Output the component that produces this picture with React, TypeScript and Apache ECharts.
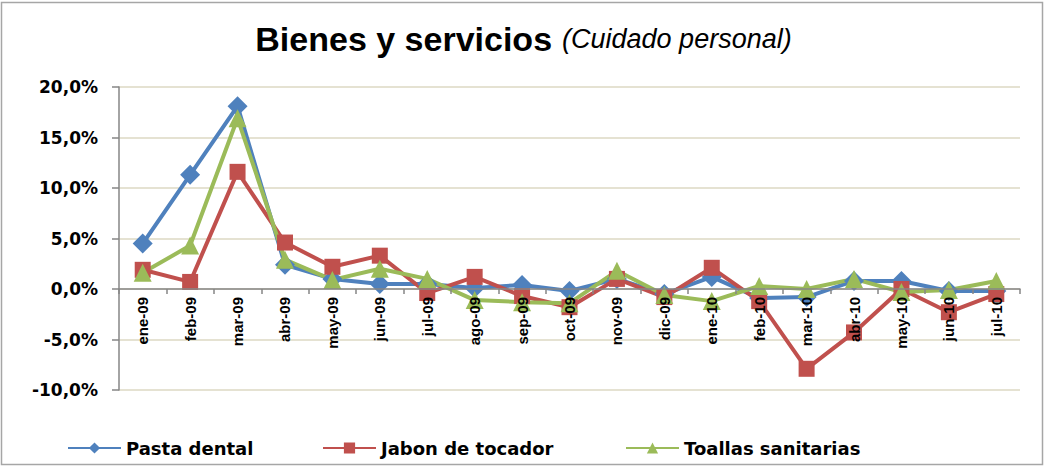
import React, { useEffect, useRef } from "react";
import * as echarts from "echarts";

const categories = [
  "ene-09", "feb-09", "mar-09", "abr-09", "may-09", "jun-09", "jul-09", "ago-09", "sep-09", "oct-09",
  "nov-09", "dic-09", "ene-10", "feb-10", "mar-10", "abr-10", "may-10", "jun-10", "jul-10",
];

const pastaDental = [4.5, 11.3, 18.1, 2.4, 1.0, 0.5, 0.5, 0.1, 0.4, -0.2, 1.0, -0.5, 1.2, -0.9, -0.8, 0.8, 0.8, -0.2, -0.2];
const jabonTocador = [1.9, 0.7, 11.6, 4.6, 2.2, 3.3, -0.4, 1.2, -0.7, -1.8, 1.0, -0.8, 2.1, -1.2, -7.9, -4.3, 0.0, -2.3, -0.5];
const toallasSanitarias = [1.6, 4.3, 16.9, 2.9, 0.9, 2.0, 1.0, -1.1, -1.3, -1.4, 1.8, -0.6, -1.2, 0.3, 0.0, 1.0, -0.3, -0.1, 0.8];

const seriesNames = ["Pasta dental", "Jabon de tocador", "Toallas sanitarias"];
const colors = ["#4F81BD", "#C0504D", "#9BBB59"];
const symbols = ["diamond", "rect", "triangle"];

export default function App() {
  const ref = useRef<HTMLDivElement>(null);
  useEffect(() => {
    document.body.style.margin = "0";
    if (!ref.current) return;
    const chart = echarts.init(ref.current, undefined, { renderer: "svg" });
    const dataSets = [pastaDental, jabonTocador, toallasSanitarias];
    const legendLefts = [67, 322, 625];
    const symbolSizes = [20, 16, 18];
    chart.setOption({
      animation: false,
      backgroundColor: "#ffffff",
      title: {
        text: "{a|Bienes y servicios}  {b|(Cuidado personal)}",
        left: "center",
        top: 17,
        textStyle: {
          rich: {
            a: { fontFamily: "Liberation Sans", fontWeight: "bold", fontSize: 34, color: "#000" },
            b: { fontFamily: "Liberation Sans", fontStyle: "italic", fontWeight: "normal", fontSize: 27, color: "#000" },
          },
        },
      },
      graphic: [
        {
          type: "rect",
          shape: { x: 1.5, y: 2.5, width: 1041, height: 462 },
          style: { fill: "none", stroke: "#A6A6A6", lineWidth: 1.5 },
          z: 100,
        },
      ],
      legend: seriesNames.map((n, i) => ({
        data: [n],
        left: legendLefts[i],
        top: 439,
        padding: 0,
        itemWidth: 53,
        itemHeight: 14,
        itemGap: 0,
        textStyle: { fontFamily: "DejaVu Sans", fontWeight: "bold", fontSize: 18, color: "#000" },
      })),
      grid: { left: 119, right: 27, top: 87, bottom: 77 },
      xAxis: {
        type: "category",
        data: categories,
        boundaryGap: true,
        position: "bottom",
        offset: -101,
        z: 5,
        axisLine: { onZero: false, lineStyle: { color: "#868686", width: 1.5 } },
        axisTick: { show: true, length: 5, lineStyle: { color: "#868686", width: 1.5 } },
        axisLabel: {
          rotate: 90,
          margin: 8,
          interval: 0,
          fontFamily: "Liberation Sans",
          fontWeight: "bold",
          fontSize: 15,
          color: "#000",
        },
      },
      yAxis: {
        type: "value",
        min: -10,
        max: 20,
        interval: 5,
        axisLine: { show: true, lineStyle: { color: "#868686", width: 1.5 } },
        axisTick: { show: true, length: 7, lineStyle: { color: "#868686", width: 1.5 } },
        splitLine: { lineStyle: { color: "#DDD9C3", width: 1.5 } },
        axisLabel: {
          margin: 21,
          fontFamily: "DejaVu Sans",
          fontWeight: "bold",
          fontSize: 17,
          color: "#000",
          formatter: (v: number) => v.toFixed(1).replace(".", ",") + "%",
        },
      },
      series: seriesNames.map((n, i) => ({
        name: n,
        type: "line",
        data: dataSets[i],
        symbol: symbols[i],
        symbolSize: symbolSizes[i],
        lineStyle: { color: colors[i], width: 4 },
        itemStyle: { color: colors[i] },
      })),
    });
    return () => chart.dispose();
  }, []);
  return <div ref={ref} style={{ width: 1047, height: 467 }} />;
}
